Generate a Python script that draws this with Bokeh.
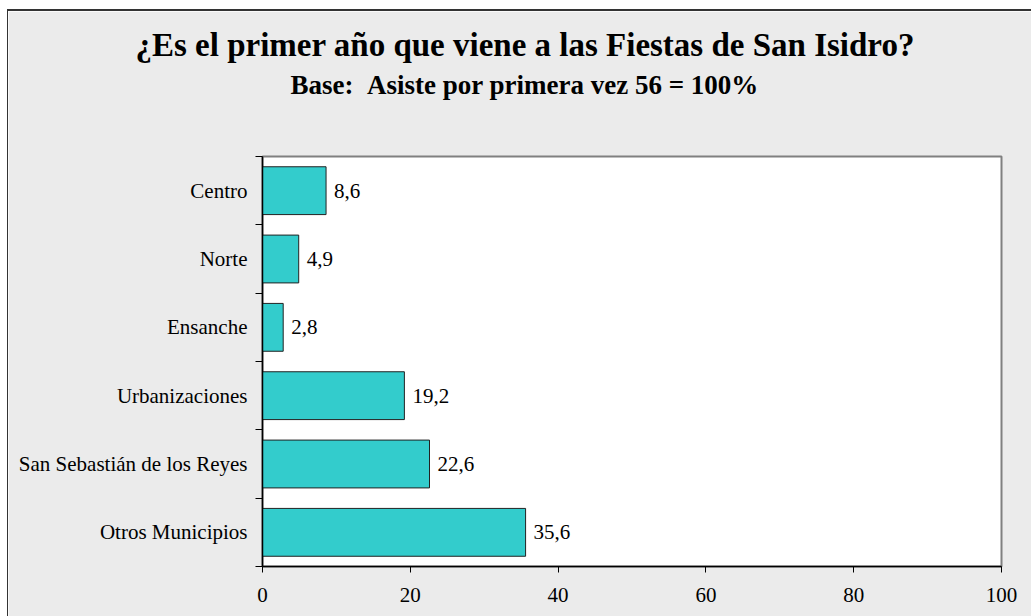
from bokeh.plotting import figure
from bokeh.models import ColumnDataSource, FixedTicker, Title, LabelSet
from bokeh.embed import file_html
from bokeh.resources import INLINE

categories = ["Centro", "Norte", "Ensanche", "Urbanizaciones",
              "San Sebastián de los Reyes", "Otros Municipios"]
values = [8.6, 4.9, 2.8, 19.2, 22.6, 35.6]
x_ticks = [0, 20, 40, 60, 80, 100]

n = len(categories)
# top-to-bottom order: first category at the top
ypos = [n - 1 - i + 0.5 for i in range(n)]
labels = [f"{v:.1f}".replace(".", ",") for v in values]

src = ColumnDataSource(dict(y=ypos, v=values, lab=labels, cat=categories))

FONT = "Liberation Serif"

p = figure(width=1024, height=607, output_backend="svg", toolbar_location=None,
           x_range=(0, 100), y_range=(0, n),
           min_border_left=254, min_border_right=31, min_border_bottom=52,
           min_border_top=145)

p.border_fill_color = "#ebebeb"
p.background_fill_color = "white"
p.outline_line_color = "#808080"
p.outline_line_width = 2
p.grid.visible = False
p.styles = {"border-top": "2px solid #333333", "border-left": "1px solid #333333",
            "box-sizing": "border-box", "margin-left": "7px", "margin-top": "9px"}

p.hbar(y="y", right="v", left=0, height=0.7, source=src,
       fill_color="#33CCCC", line_color="#222222", line_width=1)

p.add_layout(LabelSet(x="v", y="y", text="lab", source=src, x_offset=8,
                      text_baseline="middle", text_font=FONT,
                      text_font_size="21px", text_color="black"))

# x axis
p.xaxis.ticker = FixedTicker(ticks=x_ticks)
p.xaxis.major_tick_in = 0
p.xaxis.major_tick_out = 6
p.xaxis.minor_tick_out = 0
p.xaxis.axis_line_color = "black"
p.xaxis.axis_line_width = 1.5
p.xaxis.major_tick_line_color = "black"
p.xaxis.major_label_text_font = FONT
p.xaxis.major_label_text_font_size = "21px"
p.xaxis.major_label_text_color = "black"
p.xaxis.major_label_standoff = 15

# y axis: labels at band centres, ticks at band boundaries
p.yaxis.ticker = FixedTicker(ticks=ypos, minor_ticks=list(range(n + 1)))
p.yaxis.major_label_overrides = {y: c for y, c in zip(ypos, categories)}
p.yaxis.major_tick_in = 0
p.yaxis.major_tick_out = 0
p.yaxis.minor_tick_in = 0
p.yaxis.minor_tick_out = 7
p.yaxis.minor_tick_line_color = "black"
p.yaxis.axis_line_color = "black"
p.yaxis.axis_line_width = 1.5
p.yaxis.major_label_text_font = FONT
p.yaxis.major_label_text_font_size = "21px"
p.yaxis.major_label_text_color = "black"
p.yaxis.major_label_standoff = 8

# spacer between the frame and the subtitle
p.add_layout(Title(text=" ", text_font_size="2px", standoff=53,
                   border_line_alpha=0, background_fill_alpha=0), "above")
p.add_layout(Title(text="Base:\u00a0\u00a0Asiste por primera vez 56 = 100%", align="left",
                   offset=28, text_font=FONT, text_font_size="27px",
                   text_font_style="bold", text_color="black", standoff=0), "above")
p.add_layout(Title(text="¿Es el primer año que viene a las Fiestas de San Isidro?",
                   align="left", offset=-127, text_font=FONT, text_font_size="33px",
                   text_color="black", text_font_style="bold", standoff=10), "above")

open("out.html", "w").write(file_html(p, INLINE))
